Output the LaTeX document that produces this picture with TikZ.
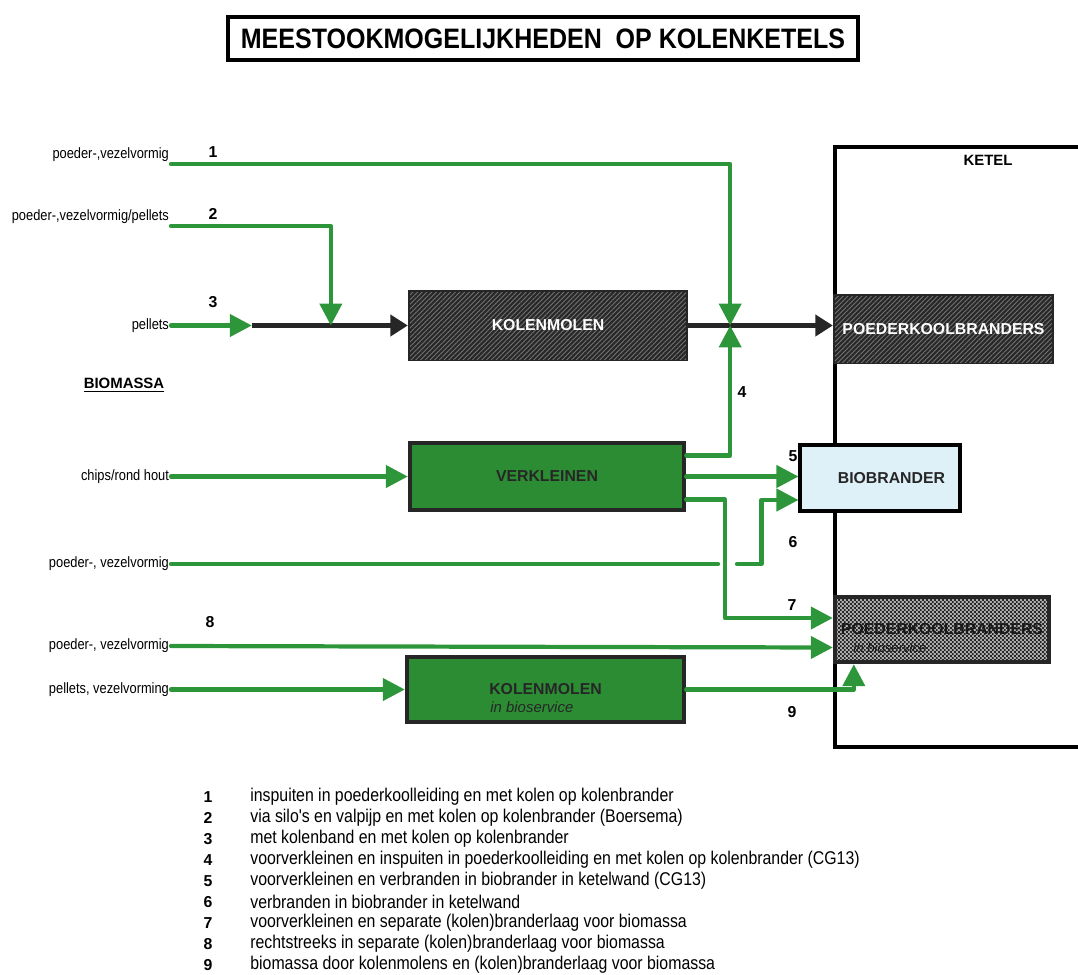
\documentclass[tikz,border=0pt]{standalone}
\usepackage{fontspec}
\setmainfont{Liberation Sans}
\newfontfamily\narrowfont[FakeStretch=0.86]{Liberation Sans}
\newfontfamily\titlefont[FakeStretch=0.89]{Liberation Sans}
\usepackage{tikz}
\usetikzlibrary{arrows.meta,positioning,calc,patterns,patterns.meta}

\definecolor{flowgreen}{RGB}{46,150,58}
\definecolor{boxgreen}{RGB}{44,140,52}
\definecolor{bioblue}{RGB}{222,240,248}
\definecolor{coaldark}{RGB}{40,40,40}

\tikzdeclarepattern{
	name=finechecker,
	type=uncolored,
	bottom left={(0pt,0pt)},
	top right={(2.2pt,2.2pt)},
	tile size={(2.2pt,2.2pt)},
	code={\fill (0pt,0pt) rectangle (1.1pt,1.1pt) (1.1pt,1.1pt) rectangle (2.2pt,2.2pt);}
}

\begin{document}
\begin{tikzpicture}[x=0.02cm,y=-0.02cm]
\tikzset{BoxStyle/.style = {draw=black!85, line width=2.5pt, inner sep=0pt, font=\bfseries\fontsize{9}{10}\selectfont}}
\tikzset{CoalStyle/.style = {BoxStyle, fill=coaldark, postaction={pattern={Lines[angle=45,distance=1.9pt,line width=0.5pt]}, pattern color=black!55}, text=white}}
\tikzset{GreenStyle/.style = {BoxStyle, fill=boxgreen, text=black!85}}
\tikzset{InStyle/.style = {anchor=east, inner sep=1pt, font=\narrowfont\fontsize{8.5}{10}\selectfont}}
\tikzset{SubStyle/.style = {inner sep=0pt, font=\itshape\fontsize{8.5}{10}\selectfont}}
\tikzset{NumStyle/.style = {font=\bfseries\fontsize{9}{10}\selectfont}}
\tikzset{LegStyle/.style = {anchor=west, inner sep=0pt, font=\narrowfont\fontsize{10.5}{12}\selectfont}}
\tikzset{FlowStyle/.style = {draw=flowgreen, line width=2.4pt, line cap=round, line join=round}}
\tikzset{GreenTip/.style = {FlowStyle, -{Triangle[length=12.5pt,width=12.5pt]}}}
\tikzset{CoalFlow/.style = {draw=black!85, line width=2.4pt, -{Triangle[length=10pt,width=12pt]}}}
\useasboundingbox (0,0) rectangle (1078,974);

\node[draw, line width=1.8pt, minimum width=12.6cm, minimum height=0.86cm, inner sep=0pt, font=\titlefont\bfseries\fontsize{16}{18}\selectfont] (Title) at (543,38.5) {MEESTOOKMOGELIJKHEDEN\ \ OP KOLENKETELS};

\draw[line width=2.2pt] (1078,147) -- (835,147) -- (835,747) -- (1078,747);
\node[font=\bfseries\fontsize{8.5}{10}\selectfont] (Ketel) at (988,160) {KETEL};

\node[CoalStyle, minimum width=5.52cm, minimum height=1.34cm] (KM) at (548,325.5) {KOLENMOLEN};
\node[GreenStyle, minimum width=5.48cm, minimum height=1.34cm] (VK) at (547,476.5) {VERKLEINEN};
\node[GreenStyle, minimum width=5.54cm, minimum height=1.3cm] (KMB) at (545.5,689.5) {KOLENMOLEN};
\node[SubStyle, text=black!85, anchor=north west] (KMBsub) at ($(KMB.center)+(-55.5,12)$) {in bioservice};
\node[CoalStyle, minimum width=4.34cm, minimum height=1.32cm] (PB) at (943.5,329) {POEDERKOOLBRANDERS};
\node[BoxStyle, draw=black, line width=1.8pt, fill=bioblue, minimum width=3.2cm, minimum height=1.32cm, text=black!85] (BB) at (880,478) {\hspace{13pt}BIOBRANDER};
\node[BoxStyle, fill=black!30, postaction={pattern=finechecker, pattern color=black!85}, minimum width=4.28cm, minimum height=1.3cm, text=black!90] (PBB) at (942,629.5) {POEDERKOOLBRANDERS};
\node[SubStyle, font=\itshape\fontsize{7.5}{9}\selectfont, text=black!90, anchor=west] (PBBsub) at (853,648) {in bioservice};

\node[InStyle] (In1) at (171,155) {poeder-,vezelvormig};
\node[InStyle] (In2) at (171,217) {poeder-,vezelvormig/pellets};
\node[InStyle] (In3) at (171,325.5) {pellets};
\node[font=\bfseries\fontsize{8.5}{10}\selectfont] (Bio) at (124,385) {\underline{BIOMASSA}};
\node[InStyle] (In4) at (171,476.5) {chips/rond hout};
\node[InStyle] (In6) at (171,564) {poeder-, vezelvormig};
\node[InStyle] (In8) at (171,646) {poeder-, vezelvormig};
\node[InStyle] (In9) at (171,689.5) {pellets, vezelvorming};

\node[NumStyle] (N1) at (213,152) {1};
\node[NumStyle] (N2) at (213,214) {2};
\node[NumStyle] (N3) at (213,302) {3};
\node[NumStyle] (N4) at (742,392) {4};
\node[NumStyle] (N5) at (793,456) {5};
\node[NumStyle] (N6) at (793,542) {6};
\node[NumStyle] (N7) at (792,605) {7};
\node[NumStyle] (N8) at (210,622) {8};
\node[NumStyle] (N9) at (792,712) {9};

\coordinate (Mix) at ($(KM.east)+(42,0)$);
\coordinate (J2) at ($(KM.west)+(-77,0)$);
\coordinate (J3) at ($(KM.west)+(-156,0)$);
\coordinate (Gap6a) at ($(In6.east)+(547,0)$);
\coordinate (Gap6b) at ($(In6.east)+(566,0)$);

\draw[CoalFlow] (J3) -- (KM.west);
\draw[CoalFlow] (KM.east) -- (KM.east -| PB.west);
\draw[GreenTip] (In3.east) -- (J3);
\draw[GreenTip] (In1.south east) -| (Mix);
\draw[GreenTip] (In2.south east) -| (J2);
\draw[GreenTip] ($(VK.east)+(0,-21)$) -| (Mix);
\draw[GreenTip] (In4.east) -- (VK.west);
\draw[GreenTip] (VK.east) -- (VK.east -| BB.west);
\draw[GreenTip] ($(VK.east)+(0,23)$) -| ($(PBB.west)+(-108,-11.5)$) -- ($(PBB.west)+(0,-11.5)$);
\draw[FlowStyle] (In6.east) -- (Gap6a);
\draw[GreenTip] (Gap6b) -| ($(BB.west)+(-37,22)$) -- ($(BB.west)+(0,22)$);
\draw[GreenTip] (In8.east) -- ($(PBB.west)+(0,18)$);
\draw[GreenTip] (In9.east) -- (KMB.west);
\draw[GreenTip] (KMB.east) -| ($(PBB.south west)+(21,0)$);

\foreach \n/\txt in {1/{inspuiten in poederkoolleiding en met kolen op kolenbrander},
	2/{via silo's en valpijp en met kolen op kolenbrander (Boersema)},
	3/{met kolenband en met kolen op kolenbrander},
	4/{voorverkleinen en inspuiten in poederkoolleiding en met kolen op kolenbrander (CG13)},
	5/{voorverkleinen en verbranden in biobrander in ketelwand (CG13)},
	6/{verbranden in biobrander in ketelwand},
	7/{voorverkleinen en separate (kolen)branderlaag voor biomassa},
	8/{rechtstreeks in separate (kolen)branderlaag voor biomassa},
	9/{biomassa door kolenmolens en (kolen)branderlaag voor biomassa}}{
	\node[NumStyle] (LegNum\n) at (208,776+21*\n) {\n};
	\node[LegStyle] (Leg\n) at (250,776+21*\n) {\txt};
}
\end{tikzpicture}
\end{document}
